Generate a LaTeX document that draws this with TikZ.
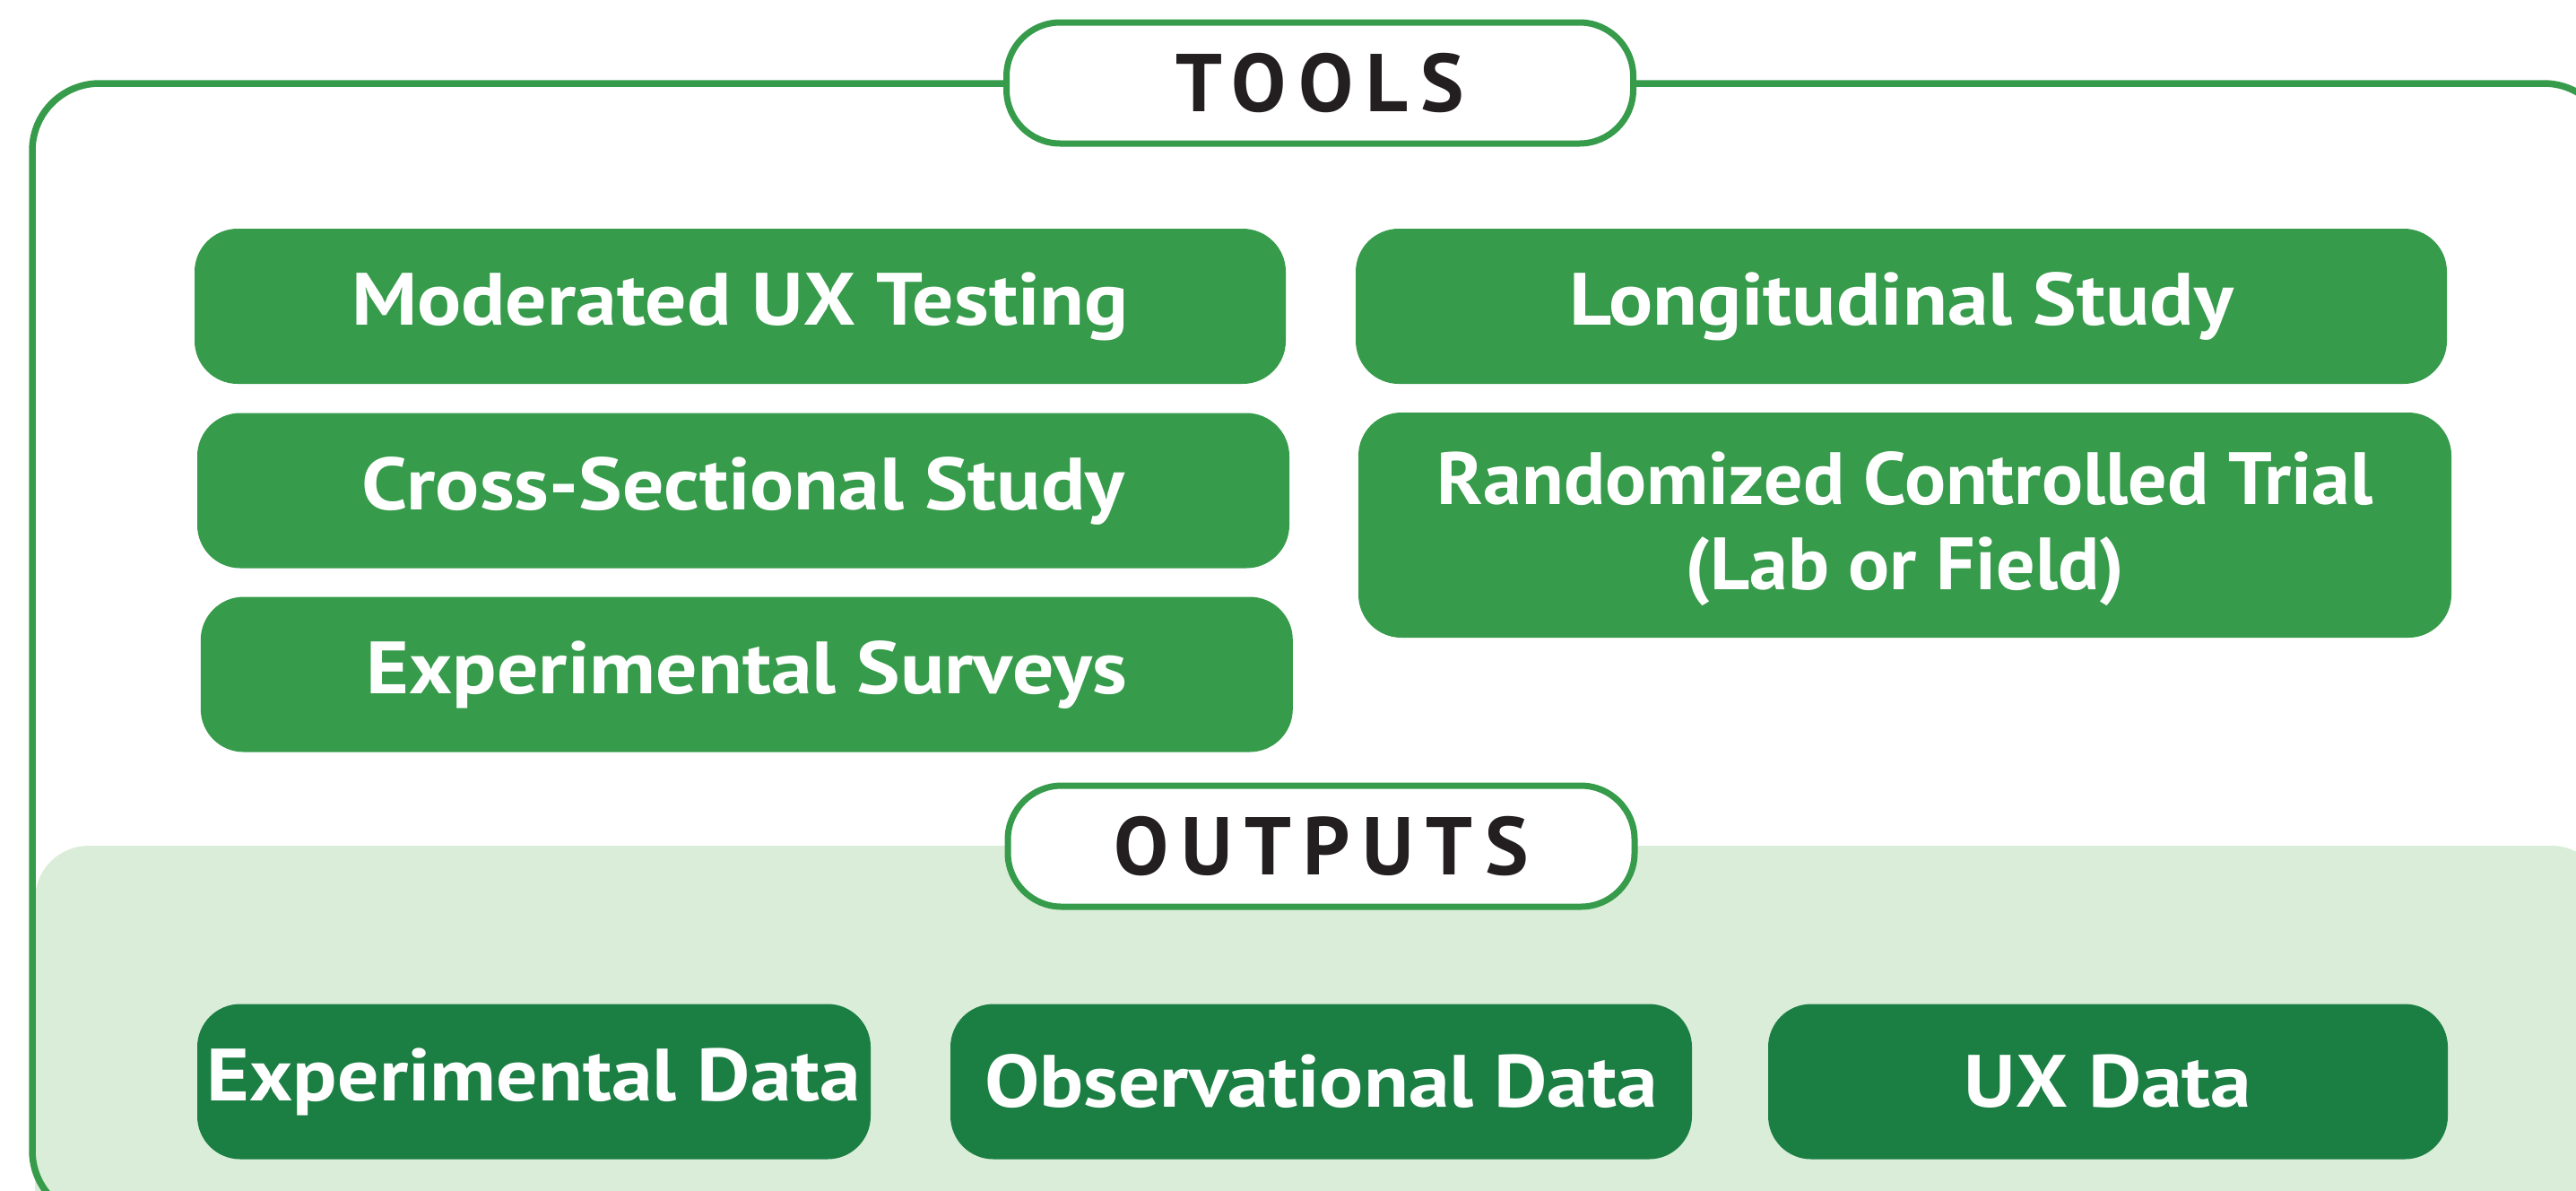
\documentclass[tikz,border=0pt]{standalone}
\usepackage{fontspec}
\setmainfont{PT Sans}
\usetikzlibrary{positioning}
\definecolor{toolgreen}{HTML}{369B4A}
\definecolor{datagreen}{HTML}{1B7E43}
\definecolor{lightgreen}{HTML}{DAEDD8}
\definecolor{headblack}{HTML}{231F20}

\begin{document}
\begin{tikzpicture}
	[   bnode/.style={fill=#1,text=white,rounded corners=0.48cm,minimum height=1.73cm,inner sep=0pt,align=center,font=\fontsize{23.5}{27}\selectfont\bfseries\addfontfeature{FakeStretch=1.11}},
	]
	\tikzset{head node/.style={draw=toolgreen,fill=white,line width=0.07cm,rounded corners=0.6cm,minimum width=6.99cm,minimum height=1.35cm,text=headblack,font=\fontsize{26}{30}\selectfont\bfseries\addfontfeature{LetterSpace=15}}}
	\useasboundingbox (0,0) rectangle (28.73,-13.27);
	\clip (0,0) rectangle (28.73,-13.27);
	
	% outputs area and outer frame
	\fill[lightgreen,rounded corners=0.6cm] (0.39,-9.43) rectangle (29.06,-14);
	\draw[toolgreen,line width=0.075cm,rounded corners=0.75cm] (0.36,-0.93) rectangle (29.12,-13.58);
	
	\node[head node] (tools) at (14.72,-0.925) {TOOLS};
	\node[head node] (outputs) at (14.735,-9.435) {OUTPUTS};
	
	% tools
	\node[bnode=toolgreen,minimum width=12.17cm] (t-1) at (8.255,-3.415) {Moderated UX Testing};
	\node[bnode=toolgreen,minimum width=12.17cm] (t-2) at (21.205,-3.415) {Longitudinal Study};
	\node[bnode=toolgreen,minimum width=12.18cm] (t-3) at (8.29,-5.47) {Cross-Sectional Study};
	\node[bnode=toolgreen,minimum width=12.19cm,minimum height=2.51cm,font=\fontsize{23.5}{27}\selectfont\bfseries\addfontfeature{FakeStretch=1.04},text depth=0.1cm] (t-4) at (21.245,-5.855) {Randomized Controlled Trial\\(Lab or Field)};
	\node[bnode=toolgreen,minimum width=12.18cm] (t-5) at (8.328,-7.52) {Experimental Surveys};
	
	% outputs
	\node[bnode=datagreen,minimum width=7.51cm] (d-1) at (5.955,-12.06) {Experimental Data};
	\node[bnode=datagreen,minimum width=8.27cm] (d-2) at (14.735,-12.06) {Observational Data};
	\node[bnode=datagreen,minimum width=7.58cm] (d-3) at (23.51,-12.06) {UX Data};
\end{tikzpicture}
\end{document}
